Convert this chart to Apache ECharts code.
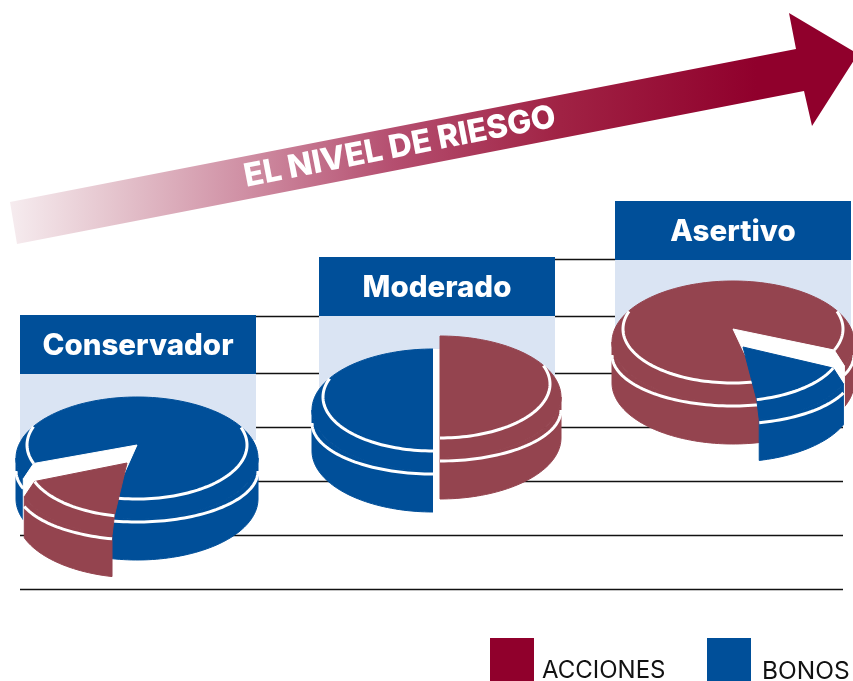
<!DOCTYPE html>
<html>
<head>
<meta charset="utf-8">
<style>
  html, body { margin: 0; padding: 0; background: #fff; }
  #chart { width: 853px; height: 681px; }
</style>
<script src="https://cdn.jsdelivr.net/npm/echarts@6/dist/echarts.min.js"></script>
</head>
<body>
<div id="chart"></div>
<script>
// data
const perfiles = ['Conservador', 'Moderado', 'Asertivo']
const activos = ['ACCIONES', 'BONOS']
const acciones = [16, 50, 85]
const bonos = [84, 50, 15]
const lineasY = [259, 316, 373, 427, 481, 535, 589]

// layout
const centroX = [137, 433, 733]
const centroY = [458, 410, 342]
const inicioBonos = [160, 90, 23] // degrees, clockwise from 3 o'clock
const sepX = [1, 7, -1]
const sepY = [18, -13, 18]
const puntaX = [-11, 0, 11]
const movido = ['ACCIONES', 'ACCIONES', 'BONOS']
const cabeceraX = [20, 319, 615]
const cabeceraY = [315, 257, 201]
const cabeceraW = 236
const cabeceraH = 59
const panelH = [66, 76, 84]

const ROJO = '#94444f'
const ROJO_LEYENDA = '#90002c'
const AZUL = '#004f99'
const PANEL = '#dae4f3'

// disc proportions
const RX = 121, RY = 61, ALTO = 41
const ANILLO_RX = 110, ANILLO_RY = 54, ANILLO_DY = -13
const BORDE_RY = 51, BORDE_DY = 13

function elipse(cx, cy, rx, ry, deg) {
  const r = deg * Math.PI / 180
  return [cx + rx * Math.cos(r), cy + ry * Math.sin(r)]
}

function arco(cx, cy, rx, ry, a0, a1) {
  const pts = []
  const n = Math.max(2, Math.ceil(Math.abs(a1 - a0) / 2))
  for (let k = 0; k <= n; k++) {
    pts.push(elipse(cx, cy, rx, ry, a0 + (a1 - a0) * k / n))
  }
  return pts
}

function dentroDisco(p, cx, cy) {
  const ex = (p[0] - cx) / RX, ey = (p[1] - cy) / RY
  return ex * ex + ey * ey < 1
}

// parts of [a0, a1] that face the viewer
function tramosFrente(a0, a1) {
  const out = []
  for (let k = 0; k < 2; k++) {
    const d = Math.max(a0, k * 360)
    const h = Math.min(a1, k * 360 + 180)
    if (h > d) out.push([d, h])
  }
  return out
}

function poligono(points, fill, z2) {
  // same colour stroke closes the seam between top face and side band
  return {
    type: 'polygon', z2: z2, shape: { points: points },
    style: { fill: fill, stroke: fill, lineWidth: 1, lineJoin: 'round' }
  }
}

function linea(points, z2) {
  return {
    type: 'polyline', z2: z2, shape: { points: points },
    style: { fill: null, stroke: '#fff', lineWidth: 3 }
  }
}

function porcion(cx, cy, a0, a1, color, z2, dxPunta) {
  const hijos = []
  const ay = cy + ANILLO_DY
  // side band
  tramosFrente(a0, a1).forEach(t => {
    const arriba = arco(cx, cy, RX, RY, t[0], t[1])
    const abajo = arco(cx, cy + ALTO, RX, RY, t[1], t[0])
    hijos.push(poligono(arriba.concat(abajo), color, z2))
  })
  // top face, the cut bends at the ring unless the ring is outside the disc there
  const corteIni = elipse(cx, ay, ANILLO_RX, ANILLO_RY, a0)
  const corteFin = elipse(cx, ay, ANILLO_RX, ANILLO_RY, a1)
  const cara = [[cx + dxPunta, ay]]
    .concat(dentroDisco(corteIni, cx, cy) ? [corteIni] : [])
    .concat(arco(cx, cy, RX, RY, a0, a1))
    .concat(dentroDisco(corteFin, cx, cy) ? [corteFin] : [])
  hijos.push(poligono(cara, color, z2))
  if (color === '#fff') return hijos
  // white rim on the side
  tramosFrente(a0, a1).forEach(t => {
    hijos.push(linea(arco(cx, cy + BORDE_DY, RX, BORDE_RY, t[0], t[1]), z2 + 1))
  })
  // white ring on top, only where it stays inside the disc
  let tramo = []
  const anillo = arco(cx, ay, ANILLO_RX, ANILLO_RY, a0, a1)
  anillo.forEach(p => {
    if (dentroDisco(p, cx, cy)) {
      tramo.push(p)
    } else {
      if (tramo.length > 1) hijos.push(linea(tramo, z2 + 1))
      tramo = []
    }
  })
  if (tramo.length > 1) hijos.push(linea(tramo, z2 + 1))
  return hijos
}

function renderPorcion(nombre, params, api) {
  const i = api.value(0)
  const valor = api.value(1)
  const span = valor * 3.6
  const inicio = inicioBonos[i]
  const a0 = nombre === 'BONOS' ? inicio : inicio + bonos[i] * 3.6
  const a1 = a0 + span
  const c = api.coord([centroX[i], centroY[i]])
  const color = nombre === 'BONOS' ? AZUL : ROJO
  let hijos
  if (movido[i] === nombre) {
    // the white gap left behind by the pulled-out piece
    if (sepY[i] > 0) {
      hijos = porcion(c[0], c[1], a0, a1, '#fff', 5, 0)
    } else {
      hijos = [{
        type: 'rect', z2: 5,
        shape: { x: c[0], y: c[1] - RY, width: sepX[i], height: 2 * RY + ALTO },
        style: { fill: '#fff' }
      }]
    }
    hijos = hijos.concat(porcion(c[0] + sepX[i], c[1] + sepY[i], a0, a1, color, 10, puntaX[i]))
  } else {
    hijos = porcion(c[0], c[1], a0, a1, color, 1, 0)
  }
  return { type: 'group', children: hijos }
}

const chart = echarts.init(document.getElementById('chart'), null, { renderer: 'canvas' })

const option = {
  animation: false,
  grid: { left: 0, right: 0, top: 0, bottom: 0 },
  xAxis: { type: 'value', min: 0, max: 853, show: false },
  yAxis: { type: 'value', min: 0, max: 681, inverse: true, show: false },
  graphic: [
    {
      type: 'polygon', z: 1,
      shape: {
        points: [[10, 202], [796, 49], [789, 13], [858, 54], [812, 126], [804, 91], [17, 244]]
      },
      style: {
        fill: new echarts.graphic.LinearGradient(0, 0, 1, 0, [
          { offset: 0, color: '#f6ecef' },
          { offset: 0.12, color: '#e5c5ce' },
          { offset: 0.28, color: '#cf8ea3' },
          { offset: 0.45, color: '#b54f70' },
          { offset: 0.65, color: '#a02244' },
          { offset: 0.88, color: '#90002c' },
          { offset: 1, color: '#90002c' }
        ])
      }
    },
    {
      type: 'text', z: 2, x: 400, y: 147, rotation: 11 * Math.PI / 180,
      style: {
        text: 'EL NIVEL DE RIESGO', fill: '#fff', align: 'center', verticalAlign: 'middle',
        font: '800 32px Inter'
      }
    },
    { type: 'rect', shape: { x: 490, y: 638, width: 44, height: 43 }, style: { fill: ROJO_LEYENDA } },
    { type: 'rect', shape: { x: 707, y: 638, width: 44, height: 43 }, style: { fill: AZUL } },
    { type: 'text', x: 542, y: 671, style: { text: activos[0], fill: '#111', verticalAlign: 'middle', font: '400 24px Inter' } },
    { type: 'text', x: 762, y: 672, style: { text: activos[1], fill: '#111', verticalAlign: 'middle', font: '400 24.5px Inter' } }
  ],
  series: [
    {
      type: 'custom', name: 'lineas', z: 1, silent: true, clip: false,
      data: lineasY,
      renderItem: (params, api) => {
        const y = api.value(0)
        const desde = api.coord([params.dataIndex === 0 ? 320 : 20, y])
        const hasta = api.coord([843, y])
        return {
          type: 'line',
          shape: { x1: desde[0], y1: desde[1] + 0.5, x2: hasta[0], y2: hasta[1] + 0.5 },
          style: { stroke: '#111', lineWidth: 1.4 }
        }
      }
    },
    {
      type: 'custom', name: 'perfiles', z: 2, silent: true, clip: false,
      data: perfiles.map((p, i) => [i]),
      renderItem: (params, api) => {
        const i = api.value(0)
        const o = api.coord([cabeceraX[i], cabeceraY[i]])
        return {
          type: 'group',
          children: [
            {
              type: 'rect',
              shape: { x: o[0], y: o[1] + cabeceraH, width: cabeceraW, height: panelH[i] },
              style: { fill: PANEL }
            },
            {
              type: 'rect',
              shape: { x: o[0], y: o[1], width: cabeceraW, height: cabeceraH },
              style: { fill: AZUL }
            },
            {
              type: 'text',
              style: {
                x: o[0] + cabeceraW / 2, y: o[1] + cabeceraH / 2 + 2,
                text: perfiles[i], fill: '#fff', align: 'center', verticalAlign: 'middle',
                font: '800 29.5px Inter'
              }
            }
          ]
        }
      }
    },
    {
      type: 'custom', name: 'BONOS', z: 3, silent: true, clip: false,
      data: bonos.map((v, i) => [i, v]),
      renderItem: (params, api) => renderPorcion('BONOS', params, api)
    },
    {
      type: 'custom', name: 'ACCIONES', z: 3, silent: true, clip: false,
      data: acciones.map((v, i) => [i, v]),
      renderItem: (params, api) => renderPorcion('ACCIONES', params, api)
    }
  ]
}

chart.setOption(option)
</script>
</body>
</html>
